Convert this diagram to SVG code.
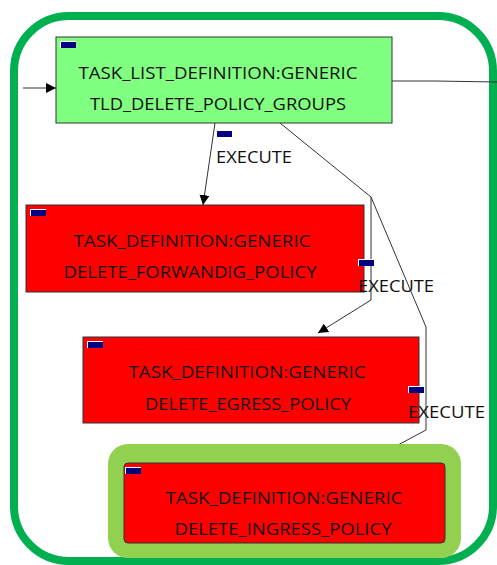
<svg xmlns="http://www.w3.org/2000/svg" width="497" height="565" viewBox="0 0 497 565">
  <style>
    .frame { fill: none; stroke: #00B050; stroke-width: 8; }
    .node { stroke: #333333; stroke-width: 1; }
    .list { fill: #80FF80; }
    .task { fill: #FF0000; }
    .hl { fill: #92D050; }
    .lbl { font-family: "Open Sans", "DejaVu Sans", sans-serif; font-size: 16px; fill: #111111; }
    .mid { text-anchor: middle; }
    .edge { fill: none; stroke: #333333; stroke-width: 1; }
  </style>
  <defs>
    <marker id="arrow" viewBox="0 0 10 10" refX="10" refY="5" markerWidth="10" markerHeight="10" markerUnits="userSpaceOnUse" orient="auto">
      <path d="M0,0 L10,5 L0,10 z" fill="#000000"/>
    </marker>
    <g id="tag">
      <rect width="16" height="7" fill="#FFFFFF"/>
      <rect x="1" y="1" width="15" height="6" fill="#000080"/>
    </g>
  </defs>

  <rect width="497" height="565" fill="#FFFFFF"/>

  <!-- outer container -->
  <rect class="frame" x="14" y="16" width="479" height="545" rx="55" ry="55"/>

  <!-- connectors -->
  <g id="connectors">
    <path class="edge" d="M23,88 L56,88" marker-end="url(#arrow)"/>
    <path class="edge" d="M392,81 L435,81 L497,82"/>
    <path class="edge" d="M215,123 L203,205" marker-end="url(#arrow)"/>
    <path class="edge" d="M280,123 L371,197 L371,300 L318,333" marker-end="url(#arrow)"/>
    <path class="edge" d="M371,197 L426,327 L426,430 L368,461" marker-end="url(#arrow)"/>
  </g>

  <!-- task list definition -->
  <g id="tld-delete-policy-groups">
    <rect class="node list" x="56" y="37" width="336" height="86"/>
    <use href="#tag" x="60" y="41"/>
    <text class="lbl mid" x="218" y="79" textLength="279" lengthAdjust="spacingAndGlyphs">TASK_LIST_DEFINITION:GENERIC</text>
    <text class="lbl mid" x="218" y="110" textLength="256" lengthAdjust="spacingAndGlyphs">TLD_DELETE_POLICY_GROUPS</text>
  </g>

  <!-- task definitions -->
  <g id="delete-forwandig-policy">
    <rect class="node task" x="26" y="205" width="338" height="87"/>
    <use href="#tag" x="30" y="209"/>
    <text class="lbl mid" x="192" y="247" textLength="237" lengthAdjust="spacingAndGlyphs">TASK_DEFINITION:GENERIC</text>
    <text class="lbl mid" x="190" y="278" textLength="253" lengthAdjust="spacingAndGlyphs">DELETE_FORWANDIG_POLICY</text>
  </g>

  <g id="delete-egress-policy">
    <rect class="node task" x="83" y="337" width="336" height="86"/>
    <use href="#tag" x="87" y="341"/>
    <text class="lbl mid" x="247" y="378" textLength="237" lengthAdjust="spacingAndGlyphs">TASK_DEFINITION:GENERIC</text>
    <text class="lbl mid" x="248" y="410" textLength="206" lengthAdjust="spacingAndGlyphs">DELETE_EGRESS_POLICY</text>
  </g>

  <g id="delete-ingress-policy">
    <rect class="hl" x="108" y="444" width="353" height="114" rx="20" ry="20"/>
    <rect class="node task" x="124" y="463" width="321" height="80" rx="4" ry="4"/>
    <use href="#tag" x="125" y="467"/>
    <text class="lbl mid" x="284" y="504" textLength="237" lengthAdjust="spacingAndGlyphs">TASK_DEFINITION:GENERIC</text>
    <text class="lbl mid" x="283" y="535" textLength="217" lengthAdjust="spacingAndGlyphs">DELETE_INGRESS_POLICY</text>
  </g>

  <!-- connector labels sit above the nodes -->
  <g id="edge-labels">
    <use href="#tag" x="216" y="130"/>
    <text class="lbl" x="216" y="163" textLength="76" lengthAdjust="spacingAndGlyphs">EXECUTE</text>
    <use href="#tag" x="358" y="259"/>
    <text class="lbl" x="358" y="292" textLength="76" lengthAdjust="spacingAndGlyphs">EXECUTE</text>
    <use href="#tag" x="408" y="386"/>
    <text class="lbl" x="408" y="418" textLength="77" lengthAdjust="spacingAndGlyphs">EXECUTE</text>
  </g>
</svg>
